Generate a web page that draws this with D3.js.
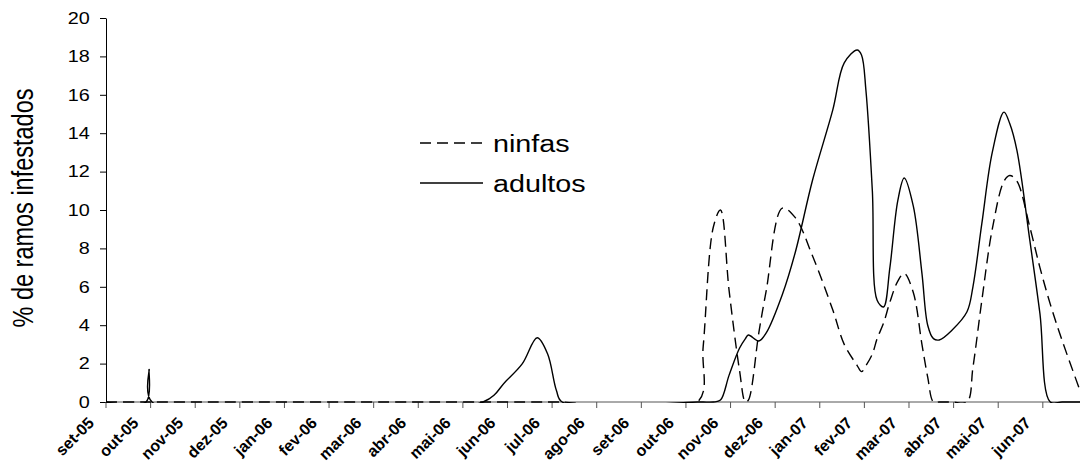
<!DOCTYPE html>
<html>
<head>
<meta charset="utf-8">
<script src="https://cdn.jsdelivr.net/npm/d3@7"></script>
<style>
  body { margin: 0; background: #fff; }
  svg { display: block; font-family: "Liberation Sans", Arial, sans-serif; }
</style>
</head>
<body>
<div id="chart"></div>
<script>
// month labels on the x axis (one tick per month)
const monthLabels = ["set-05", "out-05", "nov-05", "dez-05", "jan-06", "fev-06", "mar-06", "abr-06",
  "mai-06", "jun-06", "jul-06", "ago-06", "set-06", "out-06", "nov-06", "dez-06", "jan-07", "fev-07",
  "mar-07", "abr-07", "mai-07", "jun-07"];

const yTicks = [0, 2, 4, 6, 8, 10, 12, 14, 16, 18, 20];

// sampling dates
const sampleDates = [
  "2005-09-01", "2005-09-28", "2005-09-30", "2005-10-02",
  "2006-05-15", "2006-05-31", "2006-06-11", "2006-06-21", "2006-06-28", "2006-07-04", "2006-07-08",
  "2006-10-09", "2006-10-13", "2006-10-20", "2006-10-25", "2006-10-31",
  "2006-11-07", "2006-11-11", "2006-11-13", "2006-11-20", "2006-11-25",
  "2006-12-06", "2006-12-15", "2006-12-27",
  "2007-01-10", "2007-01-18", "2007-01-27", "2007-01-30",
  "2007-02-02", "2007-02-06", "2007-02-09", "2007-02-13", "2007-02-17", "2007-02-22", "2007-02-26",
  "2007-03-04", "2007-03-10", "2007-03-14", "2007-03-18", "2007-03-22", "2007-03-31",
  "2007-04-10", "2007-04-14", "2007-04-20", "2007-04-27",
  "2007-05-05", "2007-05-09", "2007-05-14", "2007-05-23", "2007-05-30",
  "2007-06-06", "2007-06-14", "2007-06-26"
];

const ninfas = [
  0, 0, 0, 0,
  0, 0, 0, 0, 0, 0, 0,
  0, 2.9, 9.1, 10.0, 5.8,
  1.67, 0, 0.1, 3.6, 5.8,
  10.1, 9.6, 7.6,
  4.8, 3.0, 1.9, 1.58,
  1.9, 2.5, 3.3, 4.1, 5.2, 6.3, 6.7,
  5.7, 3.0, 1.3, 0, 0, 0,
  0, 1.8, 5.3, 9.0,
  11.5, 11.8, 11.5, 9.1, 7.0,
  5.1, 3.2, 0.6
];

const adultos = [
  0, 0, 1.7, 0,
  0, 1.1, 2.0, 3.35, 2.5, 0.6, 0,
  0, 0, 0, 0.1, 1.4,
  2.8, 3.3, 3.49, 3.18, 3.6,
  5.6, 7.8, 11.56,
  15.2, 17.66, 18.33, 18.07,
  16.2, 11, 5.3, 4.95, 7.0, 10.5, 11.67,
  10.2, 6.7, 4.0, 3.3, 3.23, 3.75,
  4.7, 6.0, 9.3, 13.0,
  15.1, 14.5, 13.1, 8.4, 4.6,
  0, 0, 0
];

const axisEndDate = "2007-06-26";

// position in months counted from set-05
function monthPos(s) {
  const [yy, mm, dd] = s.split("-").map(Number);
  const days = new Date(yy, mm, 0).getDate();
  return (yy - 2005) * 12 + (mm - 9) + (dd - 1) / days;
}

const width = 1081, height = 465;
const plot = { left: 106, right: 1080, top: 18, bottom: 402 };

const svg = d3.select("#chart")
  .append("svg")
  .attr("width", width)
  .attr("height", height);

const x = d3.scaleLinear()
  .domain([0, monthPos(axisEndDate)])
  .range([plot.left, plot.right]);

const y = d3.scaleLinear()
  .domain([0, 20])
  .range([plot.bottom, plot.top]);

const rows = sampleDates.map((d, i) => ({ m: monthPos(d), n: ninfas[i], a: adultos[i] }));

// y axis
const yAxis = svg.append("g")
  .attr("transform", `translate(${plot.left},0)`)
  .call(d3.axisLeft(y).tickValues(yTicks).tickSize(6).tickSizeOuter(0));
yAxis.select(".domain").attr("stroke", "#000");
yAxis.selectAll("line").attr("stroke", "#000");
yAxis.selectAll("text")
  .attr("x", -13)
  .attr("dy", "0.33em")
  .attr("transform", "scale(1.24,1)")
  .style("font-size", "16px")
  .style("font-family", "'Liberation Sans', Arial, sans-serif")
  .attr("fill", "#000");

// x axis
const xAxis = svg.append("g")
  .attr("transform", `translate(0,${plot.bottom})`)
  .call(d3.axisBottom(x)
    .tickValues(d3.range(monthLabels.length))
    .tickFormat(i => monthLabels[i])
    .tickSize(6)
    .tickSizeOuter(0)
    .offset(0));
xAxis.select(".domain").attr("stroke", "#555");
xAxis.selectAll("line").attr("stroke", "#555");
xAxis.selectAll("text")
  .attr("x", 0)
  .attr("y", 0)
  .attr("dy", null)
  .attr("text-anchor", "end")
  .attr("transform", "translate(-11,22) rotate(-45)")
  .style("font-size", "16px")
  .style("font-weight", "bold")
  .style("font-family", "'Liberation Sans', Arial, sans-serif")
  .attr("fill", "#000");

// y title
svg.append("text")
  .attr("transform", "translate(33,208) scale(1.25,1) rotate(-90)")
  .attr("text-anchor", "middle")
  .style("font-size", "23.5px")
  .text("% de ramos infestados");

// clip the smoothed curves to the plot area
svg.append("clipPath")
  .attr("id", "plot-clip")
  .append("rect")
  .attr("x", plot.left)
  .attr("y", 0)
  .attr("width", plot.right - plot.left + 1)
  .attr("height", plot.bottom + 1);

const curve = d3.curveCatmullRom.alpha(0.5);

const lineN = d3.line()
  .x(d => x(d.m))
  .y(d => y(d.n))
  .curve(curve);

const lineA = d3.line()
  .x(d => x(d.m))
  .y(d => y(d.a))
  .curve(curve);

const lines = svg.append("g").attr("clip-path", "url(#plot-clip)");

lines.append("path")
  .datum(rows)
  .attr("d", lineA)
  .attr("fill", "none")
  .attr("stroke", "#000")
  .attr("stroke-width", 1.4);

lines.append("path")
  .datum(rows)
  .attr("d", lineN)
  .attr("fill", "none")
  .attr("stroke", "#000")
  .attr("stroke-width", 1.4)
  .attr("stroke-dasharray", "11,6");

// legend
const legend = svg.append("g");
const legendItems = [
  { name: "ninfas", dash: "11,6", y: 143 },
  { name: "adultos", dash: null, y: 183 }
];

legend.selectAll("line")
  .data(legendItems)
  .enter()
  .append("line")
  .attr("x1", 420)
  .attr("x2", 483)
  .attr("y1", d => d.y)
  .attr("y2", d => d.y)
  .attr("stroke", "#000")
  .attr("stroke-width", 1.4)
  .attr("stroke-dasharray", d => d.dash);

legend.selectAll("text")
  .data(legendItems)
  .enter()
  .append("text")
  .attr("transform", d => `translate(493,${d.y + 9}) scale(1.25,1)`)
  .style("font-size", "23px")
  .text(d => d.name);
</script>
</body>
</html>
